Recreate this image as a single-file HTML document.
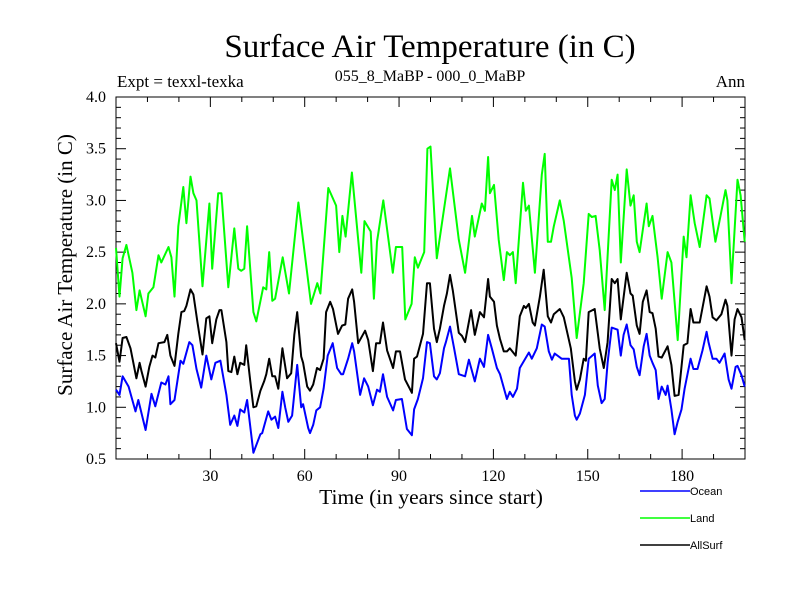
<!DOCTYPE html>
<html><head><meta charset="utf-8"><style>
body{margin:0;background:#fff}
svg{display:block;font-family:"Liberation Serif",serif}
</style></head><body>
<svg id="chart" width="800" height="600" viewBox="0 0 800 600">
<text x="430" y="57" font-size="33" text-anchor="middle">Surface Air Temperature (in C)</text>
<text x="117" y="87" font-size="17">Expt = texxl-texka</text>
<text x="430" y="81" font-size="16" text-anchor="middle">055_8_MaBP - 000_0_MaBP</text>
<text x="745" y="87" font-size="17" text-anchor="end">Ann</text>
<text x="431" y="504" font-size="21.5" text-anchor="middle">Time (in years since start)</text>
<text transform="translate(72,265) rotate(-90)" font-size="21" text-anchor="middle">Surface Air Temperature (in C)</text>
<g id="axes"></g>
<g id="series"></g>
<g id="legend" font-family="Liberation Sans, sans-serif" font-size="11">
<g><line x1="640" y1="491" x2="690" y2="491" stroke="#0000ff" stroke-width="1.5"/><text x="690" y="495">Ocean</text></g>
<g><line x1="640" y1="518" x2="690" y2="518" stroke="#00ff00" stroke-width="1.5"/><text x="690" y="522">Land</text></g>
<g><line x1="640" y1="545" x2="690" y2="545" stroke="#000" stroke-width="1.5"/><text x="690" y="549">AllSurf</text></g>
</g>
</svg>
<script>
const xTicks=[30,60,90,120,150,180];
const yTicks=[0.5,1.0,1.5,2.0,2.5,3.0,3.5,4.0];
const landYears=[0,1.1,2.1,3.3,5.2,6.5,7.5,9.4,10.3,11.9,13.5,14.4,16.7,17.6,18.6,19.8,21.4,22.4,23.7,24.6,25.6,27.5,29.7,30.6,32.5,33.5,35.7,37.6,38.9,39.8,40.8,41.7,43.7,44.6,46.8,47.8,48.7,49.7,50.6,53,55,58,62,64,65,67.5,70,71,72,73,75,78,79,81,82,83,85,88,89,91,92,94,95,96,98,99,100,102,106.2,109,111,113.2,114.1,116.3,117.3,118.3,118.9,120.2,121.7,123.3,124.3,125.2,126.2,127.1,129.4,130.3,131.3,133.2,135.4,136.3,137.3,138.3,139.2,141.1,142.4,144.9,146.5,148.7,150.3,151.3,152.5,153.8,155.4,157.6,158.6,159.5,160.5,162.4,163.6,164.6,165.6,166.5,168.7,169.4,170.6,172.2,173.5,175.4,176.6,178.6,180.5,181.4,182.7,184,185.6,187.8,188.7,190.6,192.2,193.8,194.4,195.7,197.6,198.6,199.9];
const landValues=[2.54,2.07,2.44,2.57,2.3,1.94,2.13,1.88,2.1,2.16,2.47,2.4,2.55,2.45,2.07,2.75,3.13,2.78,3.23,3.07,3.0,2.17,2.97,2.34,3.07,3.07,2.16,2.73,2.34,2.32,2.34,2.75,1.92,1.83,2.16,2.14,2.5,2.03,2.05,2.45,2.1,2.98,2.0,2.2,2.1,3.12,2.95,2.5,2.85,2.65,3.27,2.3,2.8,2.7,2.05,2.6,3.0,2.3,2.55,2.55,1.85,2.0,2.45,2.35,2.5,3.5,3.52,2.44,3.31,2.62,2.3,2.85,2.65,2.97,2.9,3.42,3.07,3.15,2.62,2.23,2.5,2.47,2.5,2.2,3.17,2.9,2.95,2.3,3.25,3.45,2.6,2.6,2.75,3.0,2.8,2.25,1.67,2.2,2.87,2.84,2.85,2.52,1.94,3.2,3.1,3.25,2.4,3.3,2.95,3.05,2.6,2.5,2.97,2.75,2.85,2.45,2.05,2.5,2.4,1.65,2.65,2.45,3.05,2.78,2.55,3.05,3.02,2.6,2.85,3.1,3.0,2.2,3.2,3.05,2.6];
const oceanYears=[0,1.1,2.1,4,6.2,7.1,9.4,11.3,12.5,14.4,15.7,16.7,17.3,18.6,20.5,21.4,23.3,24.3,25.6,27.1,28.7,30.3,31.6,33.2,35.1,36.3,37.6,38.6,39.5,40.8,41.7,43.7,45.9,46.5,48.4,49.4,50.6,51.6,52.9,53.8,54.8,56,57.6,58.9,59.5,61.1,61.7,62.7,63.7,64.9,66,67.3,68.9,70.3,71.6,72.2,73.8,75.1,75.7,77.6,78.9,80.2,81.7,83,83.9,84.9,86.2,88.1,89,90.9,92.5,94.1,94.8,96,97.6,98.9,99.8,101.1,102,103,104.3,104.9,106.2,107.5,109,111,112.2,114.1,115.7,117,118.3,119.5,121.1,122.1,124.3,125.2,126.2,127.5,128.4,131.3,132.2,133.8,135.4,136.3,137.6,138.6,139.5,141.7,144,144.9,145.9,146.5,147.5,149.1,150.3,152.2,153.2,154.4,155.4,156.3,157.6,159.5,160.5,161.4,162.4,163.6,164.6,165.6,166.5,167.8,168.7,169.7,170.6,171.6,172.5,173.5,174.8,175.4,176.6,177.6,178.6,179.8,180.8,182.7,183.6,184.9,186.5,187.8,188.4,189.7,190.9,191.9,193.5,194.8,195.7,197,197.6,198.9,199.9];
const oceanValues=[1.17,1.12,1.3,1.2,0.96,1.07,0.78,1.13,1.01,1.24,1.22,1.3,1.03,1.07,1.45,1.42,1.63,1.6,1.37,1.19,1.5,1.27,1.43,1.45,1.12,0.83,0.92,0.82,0.98,0.95,1.07,0.56,0.74,0.75,0.96,0.88,0.91,0.8,1.15,1.0,0.86,0.92,1.41,1.0,1.03,0.8,0.75,0.83,0.97,1.0,1.18,1.5,1.62,1.38,1.32,1.32,1.47,1.62,1.54,1.12,1.28,1.2,1.02,1.17,1.15,1.32,1.1,0.97,1.07,1.08,0.79,0.73,0.98,1.08,1.28,1.63,1.62,1.3,1.27,1.33,1.57,1.63,1.78,1.57,1.32,1.3,1.46,1.25,1.47,1.39,1.7,1.57,1.38,1.32,1.08,1.15,1.1,1.18,1.38,1.53,1.47,1.57,1.8,1.78,1.54,1.46,1.52,1.47,1.47,1.12,0.92,0.88,0.94,1.12,1.47,1.52,1.21,1.04,1.08,1.43,1.77,1.75,1.5,1.7,1.8,1.6,1.56,1.39,1.31,1.59,1.71,1.5,1.43,1.36,1.08,1.2,1.12,1.21,0.98,0.74,0.86,0.98,1.18,1.47,1.37,1.37,1.55,1.73,1.63,1.47,1.47,1.43,1.52,1.27,1.18,1.39,1.4,1.31,1.2];
const allYears=[0,1.1,2.1,3.3,4.6,6.5,7.5,8.1,9.4,10.6,11.6,12.5,13.5,15.4,16.3,17.3,18.6,19.8,20.8,21.7,22.4,23.7,24.6,25.9,27.5,28.7,29.7,30.6,31.9,32.9,33.5,35.1,35.7,36.7,37.6,38.6,39.5,40.8,41.4,42.7,43.7,44.6,45.9,47.1,47.8,48.7,49.7,50.6,51.6,52.9,54.4,55.7,56.7,57.6,58.9,59.5,60.8,61.7,62.7,63.9,64.9,66,66.8,68.1,69,70.6,71.9,72.9,73.8,75.1,75.7,77,79.2,80.2,81.7,82.7,83.9,84.9,86.2,88.1,89,90.3,91.9,94.1,94.8,95.7,97.6,98.9,99.8,101.1,102,103,104.3,105.2,106.2,107.1,109,110,111,112.9,114.1,115.7,117,118.3,118.9,120.2,121.1,122.1,123.3,124.3,125.2,127.1,128.4,129.7,130.3,131.3,132.5,133.2,134.8,136,137.3,138.3,139.2,141.1,142.4,144.6,145.9,146.5,147.5,148.7,149.4,150.3,152.2,153.8,155.1,156.3,157.6,158.6,159.5,160.5,162.4,163.6,164.3,165.6,166.5,167.5,168.7,169.7,170.6,171.6,172.5,173.5,175.4,176.6,177.6,178.9,180.5,181.7,182.7,183.6,185.6,187.8,188.7,189.7,190.9,192.5,193.8,194.4,195.7,196.7,197.6,198.9,199.9];
const allValues=[1.62,1.44,1.67,1.68,1.57,1.28,1.43,1.35,1.2,1.39,1.5,1.48,1.62,1.63,1.7,1.5,1.4,1.71,1.92,1.93,1.98,2.14,2.09,1.82,1.51,1.86,1.88,1.62,1.85,1.94,1.94,1.63,1.35,1.34,1.49,1.32,1.43,1.41,1.6,1.25,1.0,1.01,1.16,1.25,1.32,1.47,1.3,1.3,1.18,1.57,1.28,1.33,1.7,1.92,1.49,1.43,1.2,1.16,1.22,1.38,1.36,1.47,1.92,2.02,1.95,1.71,1.79,1.8,2.05,2.14,2.02,1.62,1.74,1.65,1.35,1.62,1.62,1.82,1.55,1.38,1.54,1.54,1.27,1.14,1.47,1.49,1.71,2.2,2.2,1.76,1.63,1.76,1.98,2.1,2.28,2.13,1.72,1.69,1.63,1.94,1.7,1.92,1.87,2.24,2.07,2.02,1.79,1.66,1.54,1.54,1.57,1.5,1.88,1.98,1.96,2.0,1.82,1.79,2.07,2.33,1.88,1.82,1.9,1.95,1.87,1.57,1.25,1.17,1.27,1.47,1.45,1.92,1.95,1.57,1.38,1.63,2.24,2.2,2.24,1.85,2.3,2.1,2.08,1.79,1.71,2.02,2.13,1.92,1.91,1.76,1.49,1.48,1.59,1.41,1.11,1.12,1.6,1.62,1.95,1.82,1.82,2.17,2.07,1.87,1.84,1.9,2.04,1.98,1.5,1.85,1.95,1.87,1.65];

const L=116,R=745,T=97,B=459;
const xMin=0,xMax=200,yMin=0.5,yMax=4.0;
function xs(v){return L+(v-xMin)/(xMax-xMin)*(R-L);}
function ys(v){return B-(v-yMin)/(yMax-yMin)*(B-T);}
const NS="http://www.w3.org/2000/svg";
function mk(tag,attrs,parent){const e=document.createElementNS(NS,tag);for(const k in attrs)e.setAttribute(k,attrs[k]);parent.appendChild(e);return e;}
const axes=document.getElementById('axes');
const frame=mk('rect',{x:L,y:T,width:R-L,height:B-T,fill:'none',stroke:'#000','stroke-width':1},axes);


for(let t=10;t<200;t+=10){
  const major=xTicks.includes(t);const len=major?10:5;
  const a=mk('line',{x1:xs(t),x2:xs(t),y1:B,y2:B-len,stroke:'#000'},axes);
  
  
  const b=mk('line',{x1:xs(t),x2:xs(t),y1:T,y2:T+len,stroke:'#000'},axes);
  
  
}
xTicks.forEach(t=>{
  const tx=mk('text',{x:xs(t),y:B+22,'font-size':16,'text-anchor':'middle'},axes);
  tx.textContent=t;
  
  
});
for(let i=1;i<35;i++){
  const v=yMin+i*0.1;const major=(i%5===0);const len=major?10:5;
  const a=mk('line',{x1:L,x2:L+len,y1:ys(v),y2:ys(v),stroke:'#000'},axes);
  
  
  const b=mk('line',{x1:R,x2:R-len,y1:ys(v),y2:ys(v),stroke:'#000'},axes);
  
  
}
yTicks.forEach(v=>{
  const tx=mk('text',{x:L-10,y:ys(v)+5,'font-size':16,'text-anchor':'end'},axes);
  tx.textContent=v.toFixed(1);
  
  
});
const series=document.getElementById('series');
function draw(years,vals,color,name){
  const d=years.map((y,i)=>(i?'L':'M')+xs(y).toFixed(1)+','+ys(vals[i]).toFixed(1)).join('');
  const p=mk('path',{d:d,fill:'none',stroke:color,'stroke-width':2,'stroke-linejoin':'round'},series);
  
  
}
draw(landYears,landValues,'#00ff00','land-line');
draw(allYears,allValues,'#000000','allsurf-line');
draw(oceanYears,oceanValues,'#0000ff','ocean-line');
</script>
</body></html>
